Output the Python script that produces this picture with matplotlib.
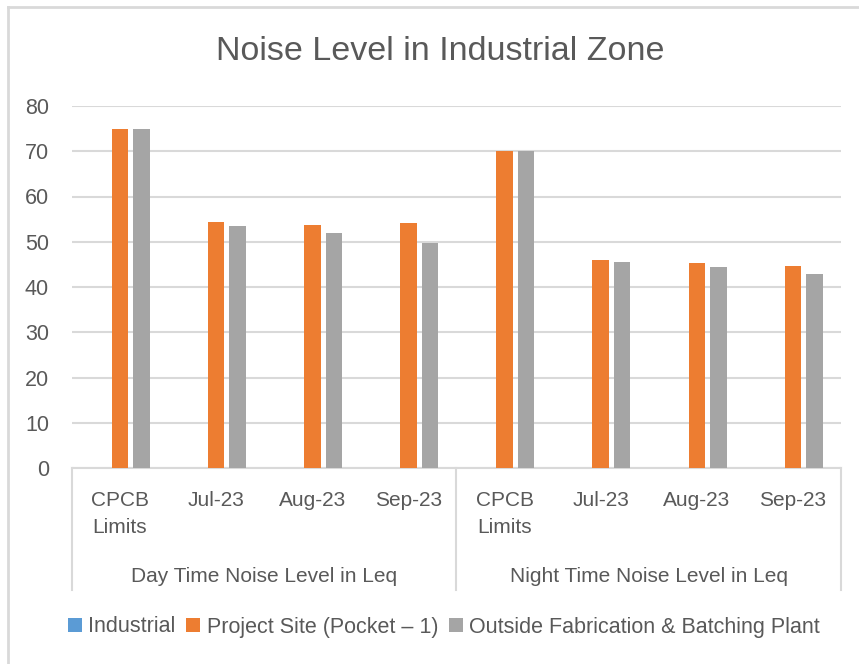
import matplotlib.pyplot as plt
import numpy as np
from matplotlib.lines import Line2D
from matplotlib.transforms import blended_transform_factory

plt.rcParams['font.family'] = ['Liberation Sans', 'DejaVu Sans']

# chart data
categories = ["CPCB\nLimits", "Jul-23", "Aug-23", "Sep-23",
              "CPCB\nLimits", "Jul-23", "Aug-23", "Sep-23"]
groups = ["Day Time Noise Level in Leq", "Night Time Noise Level in Leq"]
industrial = [0, 0, 0, 0, 0, 0, 0, 0]
project_site = [75, 54.4, 53.8, 54.1, 70, 46.0, 45.2, 44.6]
outside_plant = [75, 53.4, 51.9, 49.7, 70, 45.5, 44.4, 42.9]
series_names = ["Industrial", "Project Site (Pocket \u2013 1)",
                "Outside Fabrication & Batching Plant"]
y_ticks = [0, 10, 20, 30, 40, 50, 60, 70, 80]

text_col = "#595959"
grid_col = "#D9D9D9"
colors = ["#5B9BD5", "#ED7D31", "#A5A5A5"]

W, H = 859, 664
fig = plt.figure(figsize=(W / 100, H / 100), dpi=100)

def fx(px):
    return px / W

def fy(py):
    return 1 - py / H

ax_left, ax_right, ax_top, ax_bot = 72, 841, 106, 468
ax = fig.add_axes([fx(ax_left), fy(ax_bot), fx(ax_right - ax_left), (ax_bot - ax_top) / H])

x = np.arange(len(categories))
bar_w = 0.172
step = 0.224
for i, (vals, col, name) in enumerate(zip([industrial, project_site, outside_plant], colors, series_names)):
    ax.bar(x + (i - 1) * step, vals, bar_w, color=col, label=name, zorder=3)

ax.set_xlim(-0.5, len(categories) - 0.5)
ax.set_ylim(0, 80)
ax.set_yticks(y_ticks)
ax.tick_params(axis='y', length=0, pad=16.5, labelsize=15.5, labelcolor=text_col)
ax.set_xticks([])
ax.grid(axis='y', color=grid_col, linewidth=1.5, zorder=0)
for side in ['top', 'right', 'left']:
    ax.spines[side].set_visible(False)
ax.spines['bottom'].set_color(grid_col)
ax.spines['bottom'].set_linewidth(1.5)

# multi-level category axis
tr = blended_transform_factory(ax.transData, fig.transFigure)
for xs in [-0.5, 3.5, 7.5]:
    ax.add_line(Line2D([xs, xs], [fy(468), fy(590)], transform=tr, color=grid_col,
                       linewidth=1.5, clip_on=False))
for xi, lab in zip(x, categories):
    ax.text(xi, fy(491), lab, transform=tr, ha='center', va='top', fontsize=15,
            color=text_col, linespacing=1.55)
for gi, g in enumerate(groups):
    ax.text(gi * 4 + 1.5, fy(576), g, transform=tr, ha='center', va='center',
            fontsize=15, color=text_col)

fig.text(fx(440), fy(51), "Noise Level in Industrial Zone", ha='center', va='center',
         fontsize=24.5, color=text_col)

fig.legend(loc='center', bbox_to_anchor=(fx(444), fy(627)), ncol=3, frameon=False,
           fontsize=15.5, handlelength=0.64, handleheight=0.64, handletextpad=0.3,
           columnspacing=0.5, labelcolor=text_col)

# outer chart border (left and top edges visible)
fig.add_artist(Line2D([fx(8), fx(8)], [fy(7), 0], transform=fig.transFigure,
                      color=grid_col, linewidth=2))
fig.add_artist(Line2D([fx(8), 1], [fy(7), fy(7)], transform=fig.transFigure,
                      color=grid_col, linewidth=2))

fig.savefig("out.png", dpi=100)
